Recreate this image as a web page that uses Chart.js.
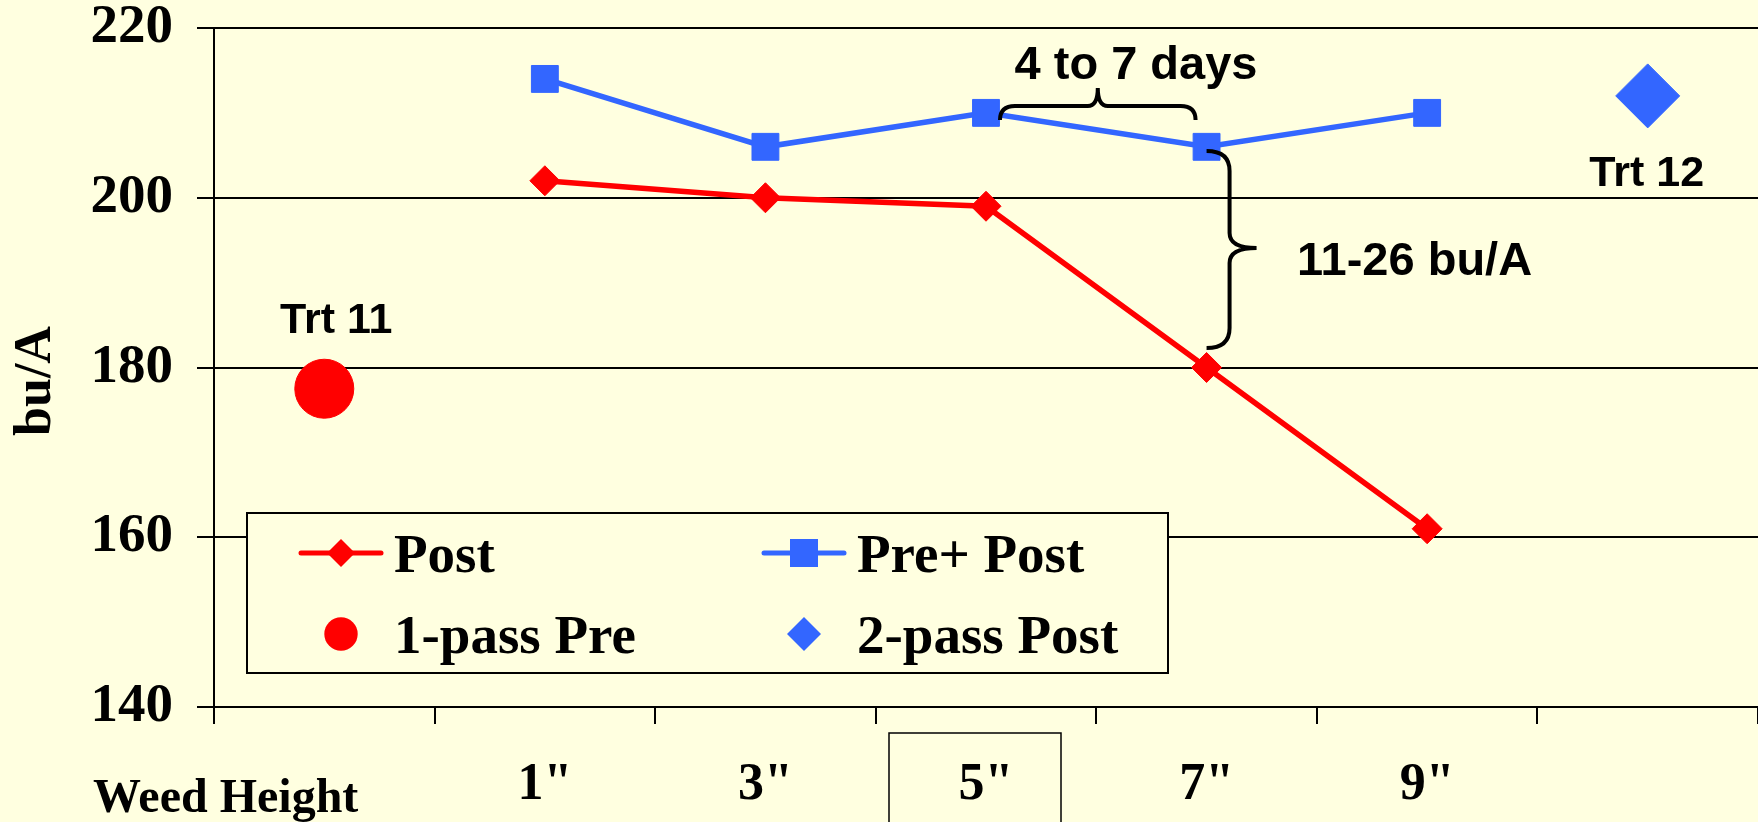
<!DOCTYPE html>
<html>
<head>
<meta charset="utf-8">
<script src="https://cdn.jsdelivr.net/npm/chart.js@4/dist/chart.umd.min.js"></script>
<style>
  html, body { margin: 0; padding: 0; overflow: hidden; background: #FFFFE0; }
  #wrap { width: 1758px; height: 822px; }
</style>
</head>
<body>
<div id="wrap"><canvas id="yieldChart"></canvas></div>
<script>
var categories = ['Trt 11', '1"', '3"', '5"', '7"', '9"', 'Trt 12'];
var tickLabels = ['', '1"', '3"', '5"', '7"', '9"', ''];
var yTicks = [140, 160, 180, 200, 220];
var postYield = [null, 202, 200, 199, 180, 161, null];
var prePostYield = [null, 214, 206, 210, 206, 210, null];
var onePassPre = [177.5, null, null, null, null, null, null];
var twoPassPost = [null, null, null, null, null, null, 212];

var BG = '#FFFFE0';
var RED = '#FF0000';
var BLUE = '#3366FF';
var SERIF = '"Liberation Serif", "Times New Roman", serif';
var SANS = '"Liberation Sans", Arial, sans-serif';

function marker(ctx, style, x, y, r) {
    ctx.beginPath();
    if (style === 'circle') {
        ctx.arc(x, y, r, 0, Math.PI * 2);
    } else if (style === 'rect') {
        ctx.rect(x - r, y - r, 2 * r, 2 * r);
    } else {
        ctx.moveTo(x - r, y);
        ctx.lineTo(x, y - r);
        ctx.lineTo(x + r, y);
        ctx.lineTo(x, y + r);
        ctx.closePath();
    }
    ctx.fill();
}

var extras = {
    id: 'extras',
    afterDatasetsDraw: function (chart) {
        var ctx = chart.ctx;
        var x = chart.scales.x, y = chart.scales.y;
        ctx.save();

        // legend box, drawn over the 160 gridline
        ctx.fillStyle = BG;
        ctx.fillRect(247, 513, 921, 160);
        ctx.strokeStyle = '#000';
        ctx.lineWidth = 2;
        ctx.strokeRect(247, 513, 921, 160);

        var slots = [[341, 553], [804, 553], [341, 634], [804, 634]];
        var sizes = [14, 14, 16.7, 17];
        chart.data.datasets.forEach(function (ds, i) {
            var sx = slots[i][0], sy = slots[i][1];
            ctx.fillStyle = ds.backgroundColor;
            ctx.strokeStyle = ds.borderColor;
            if (ds.showLine !== false) {
                ctx.lineWidth = 5;
                ctx.lineCap = 'round';
                ctx.beginPath();
                ctx.moveTo(sx - 40, sy);
                ctx.lineTo(sx + 40, sy);
                ctx.stroke();
            }
            marker(ctx, ds.pointStyle, sx, sy, sizes[i]);
            ctx.fillStyle = '#000';
            ctx.font = 'bold 55px ' + SERIF;
            ctx.textAlign = 'left';
            ctx.textBaseline = 'alphabetic';
            ctx.fillText(ds.label, sx + 53, sy + 19);
        });

        // annotations
        ctx.fillStyle = '#000';
        ctx.font = 'bold 43px ' + SANS;
        ctx.textAlign = 'center';
        ctx.fillText('Trt 11', x.getPixelForValue(0) + 12, 333);
        ctx.fillText('Trt 12', x.getPixelForValue(6) - 1, 186);
        ctx.font = 'bold 47px ' + SANS;
        ctx.fillText('4 to 7 days', 1136, 79);
        ctx.textAlign = 'left';
        ctx.fillText('11-26 bu/A', 1297, 275);

        // braces
        ctx.strokeStyle = '#000';
        ctx.lineWidth = 4;
        ctx.lineCap = 'butt';
        var x0 = x.getPixelForValue(3) + 14, x1 = x.getPixelForValue(4) - 11;
        var xt = (x0 + x1) / 2, ym = 106, yt = 88, ye = 120, r = 15;
        ctx.beginPath();
        ctx.moveTo(x0, ye);
        ctx.quadraticCurveTo(x0, ym, x0 + r, ym);
        ctx.lineTo(xt - 10, ym);
        ctx.quadraticCurveTo(xt, ym, xt, yt);
        ctx.quadraticCurveTo(xt, ym, xt + 10, ym);
        ctx.lineTo(x1 - r, ym);
        ctx.quadraticCurveTo(x1, ym, x1, ye);
        ctx.stroke();

        var bx = x.getPixelForValue(4), vx = bx + 23, tipX = bx + 50;
        var top = 151, bot = 348, mid = 248;
        ctx.beginPath();
        ctx.moveTo(bx, top);
        ctx.quadraticCurveTo(vx, top, vx, top + 20);
        ctx.lineTo(vx, mid - 15);
        ctx.quadraticCurveTo(vx, mid, tipX, mid);
        ctx.quadraticCurveTo(vx, mid, vx, mid + 15);
        ctx.lineTo(vx, bot - 20);
        ctx.quadraticCurveTo(vx, bot, bx, bot);
        ctx.stroke();

        // x label area
        ctx.lineWidth = 1.5;
        ctx.strokeRect(889, 733, 172, 120);
        ctx.font = 'bold 48px ' + SERIF;
        ctx.textAlign = 'left';
        ctx.fillText('Weed Height', 93, 812);

        // y title
        ctx.translate(37, 381);
        ctx.rotate(-Math.PI / 2);
        ctx.textAlign = 'center';
        ctx.textBaseline = 'middle';
        ctx.font = 'bold 52px ' + SERIF;
        ctx.fillText('bu/A', 0, 0);
        ctx.restore();
    }
};

var ctx = document.getElementById('yieldChart').getContext('2d');
var myChart = new Chart(ctx, {
    type: 'line',
    data: {
        labels: categories,
        datasets: [{
            label: 'Post',
            data: postYield,
            borderColor: RED,
            backgroundColor: RED,
            borderWidth: 5.5,
            pointStyle: 'rectRot',
            pointRadius: 15,
            pointBorderWidth: 1
        }, {
            label: 'Pre+ Post',
            data: prePostYield,
            borderColor: BLUE,
            backgroundColor: BLUE,
            borderWidth: 5.5,
            pointStyle: 'rect',
            pointRadius: 19,
            pointBorderWidth: 1
        }, {
            label: '1-pass Pre',
            data: onePassPre,
            borderColor: RED,
            backgroundColor: RED,
            showLine: false,
            pointStyle: 'circle',
            pointRadius: 29.5
        }, {
            label: '2-pass Post',
            data: twoPassPost,
            borderColor: BLUE,
            backgroundColor: BLUE,
            showLine: false,
            pointStyle: 'rectRot',
            pointRadius: 32
        }]
    },
    options: {
        responsive: true,
        maintainAspectRatio: false,
        animation: false,
        layout: { autoPadding: false, padding: { top: 28, left: 0, right: 0, bottom: 0 } },
        plugins: {
            legend: { display: false },
            tooltip: { enabled: false }
        },
        scales: {
            x: {
                offset: true,
                grid: { offset: true, drawOnChartArea: false, color: '#000', lineWidth: 2, tickLength: 17 },
                border: { color: '#000', width: 2 },
                ticks: {
                    padding: 30,
                    color: '#000',
                    maxRotation: 0,
                    autoSkip: false,
                    font: { family: SERIF, size: 52, weight: 'bold' },
                    callback: function (v, i) { return tickLabels[i]; }
                },
                afterFit: function (s) { s.height = 115; s.paddingLeft = 0; s.paddingRight = 0; }
            },
            y: {
                min: 140,
                max: 220,
                afterBuildTicks: function (s) { s.ticks = yTicks.map(function (v) { return { value: v }; }); },
                grid: { color: '#000', lineWidth: 2, tickLength: 17 },
                border: { color: '#000', width: 2 },
                ticks: {
                    padding: 24,
                    color: '#000',
                    font: { family: SERIF, size: 55, weight: 'bold', lineHeight: 1 }
                },
                afterFit: function (s) { s.width = 214; s.paddingTop = 0; s.paddingBottom = 0; }
            }
        }
    },
    plugins: [extras]
});
</script>
</body>
</html>
